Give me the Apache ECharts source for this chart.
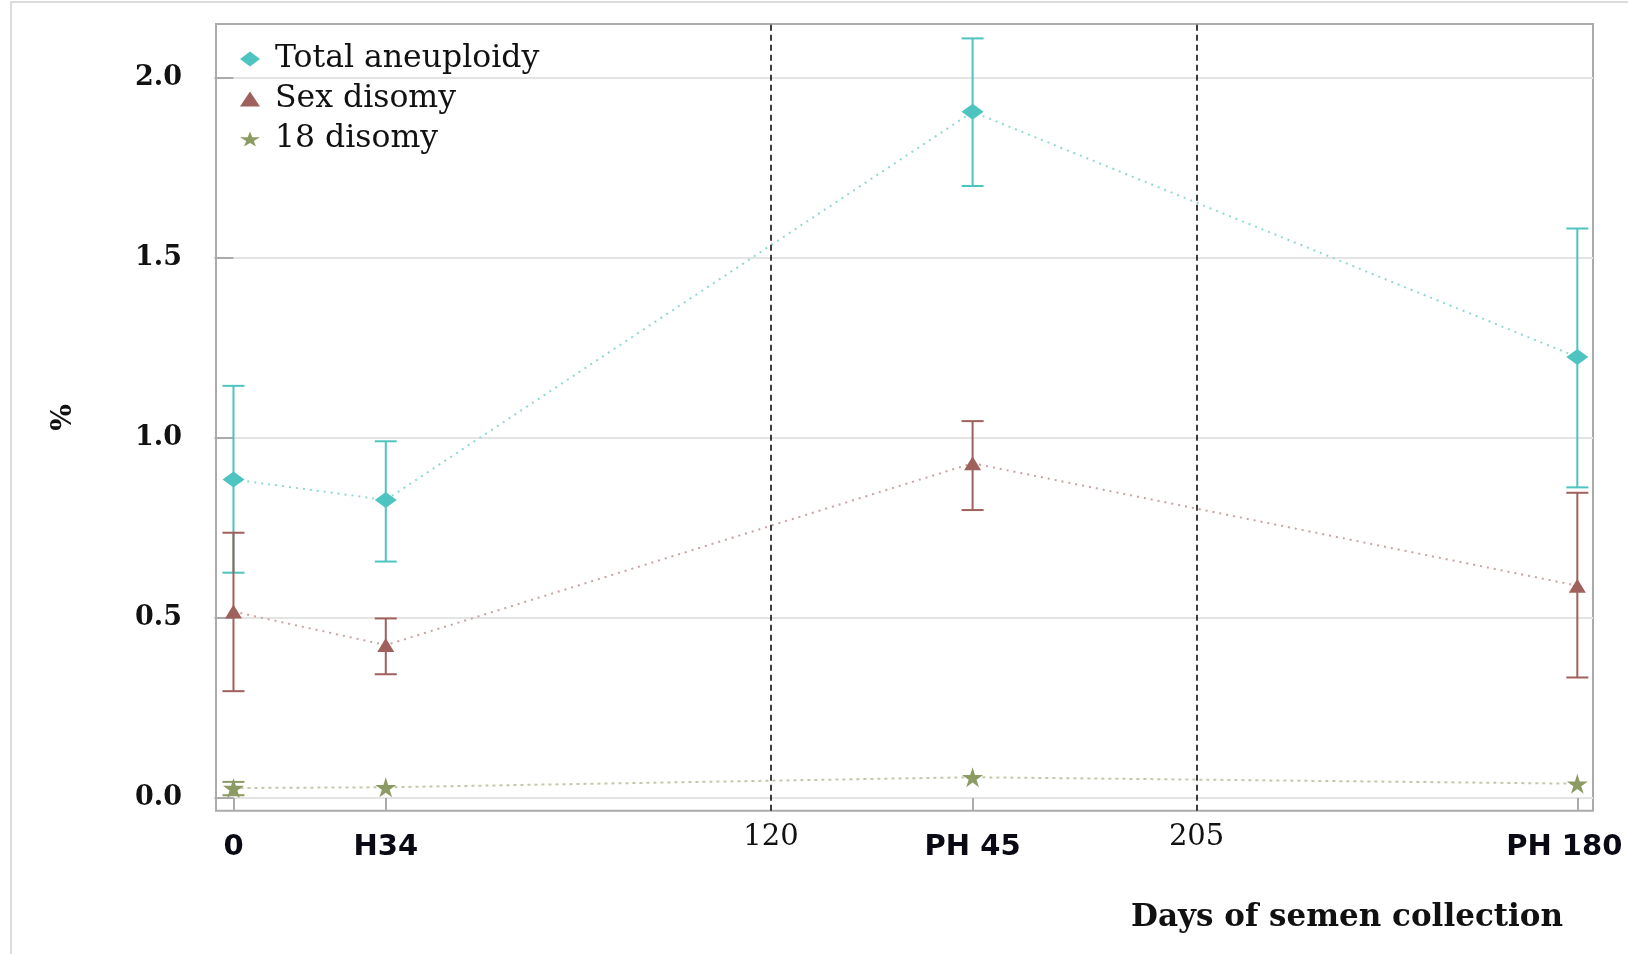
<!DOCTYPE html>
<html>
<head>
<meta charset="utf-8">
<script src="https://cdn.jsdelivr.net/npm/echarts@6/dist/echarts.min.js"></script>
<style>html,body{margin:0;padding:0;background:#fff;}#c{width:1628px;height:954px;}</style>
</head>
<body>
<div id="c"></div>
<script>
const categories = ['0', 'H34', 'PH 45', 'PH 180'];
const dayPos = [0, 34, 165, 300];
const totalMean = [0.885, 0.828, 1.906, 1.225];
const totalLow = [0.626, 0.657, 1.700, 0.863];
const totalHigh = [1.145, 0.991, 2.110, 1.582];
const sexMean = [0.518, 0.425, 0.930, 0.590];
const sexLow = [0.297, 0.344, 0.800, 0.335];
const sexHigh = [0.737, 0.499, 1.047, 0.848];
const d18Mean = [0.028, 0.030, 0.058, 0.040];
const d18Low = [0.008, null, null, null];
const d18High = [0.045, null, null, null];
const refDays = [120, 215];
const refLabels = ['120', '205'];
const yTicks = [0, 0.5, 1.0, 1.5, 2.0];

const STAR = 'path://M50,0 L61,35 L98,35 L68,57 L79,91 L50,70 L21,91 L32,57 L2,35 L39,35 Z';
const C_T = '#4ec4c0', C_S = '#a0605c', C_E = '#8c9a64';

function pts(m) { return dayPos.map((d, i) => [d, m[i]]); }
function bars(lo, hi) {
  const out = [];
  dayPos.forEach((d, i) => { if (lo[i] != null) out.push([d, lo[i], hi[i]]); });
  return out;
}
function errSeries(name, lo, hi, color) {
  return {
    type: 'custom', name: name + '_err', z: 2, silent: true,
    data: bars(lo, hi),
    renderItem: function (params, api) {
      const x = api.value(0);
      const a = api.coord([x, api.value(1)]);
      const b = api.coord([x, api.value(2)]);
      const w = 11;
      const st = { stroke: color, lineWidth: 2, fill: 'none' };
      return {
        type: 'group', children: [
          { type: 'line', shape: { x1: a[0], y1: a[1], x2: b[0], y2: b[1] }, style: st },
          { type: 'line', shape: { x1: a[0] - w, y1: a[1], x2: a[0] + w, y2: a[1] }, style: st },
          { type: 'line', shape: { x1: b[0] - w, y1: b[1], x2: b[0] + w, y2: b[1] }, style: st }
        ]
      };
    }
  };
}

const labelMap = {};
dayPos.forEach((d, i) => labelMap[d] = { t: categories[i], s: i === dayPos.length - 1 ? 'last' : 'cat' });
refDays.forEach((d, i) => labelMap[d] = { t: refLabels[i], s: 'ref' });

const chart = echarts.init(document.getElementById('c'), null, { renderer: 'canvas' });
chart.setOption({
  animation: false,
  backgroundColor: '#fff',
  graphic: [{
    type: 'rect', silent: true, z: -10,
    shape: { x: 11, y: 2, width: 1700, height: 1000 },
    style: { fill: 'none', stroke: '#dcdcdc', lineWidth: 2 }
  }],
  title: {
    text: 'Days of semen collection', left: 1126, top: 897,
    textStyle: { fontFamily: 'DejaVu Serif', fontWeight: 'bold', fontSize: 31, color: '#111' }
  },
  grid: {
    left: 216, top: 24, right: 35, bottom: 143.3,
    outerBoundsMode: 'none', containLabel: false,
    show: true, borderColor: '#ababab', borderWidth: 2, backgroundColor: 'transparent'
  },
  legend: {
    orient: 'vertical', left: 235, top: 38, itemGap: 8,
    itemWidth: 20, itemHeight: 15, symbolKeepAspect: false,
    textStyle: { fontFamily: 'DejaVu Serif', fontSize: 31.5, lineHeight: 31, color: '#111', padding: [0, 0, 0, 10] },
    data: [
      { name: 'Total aneuploidy', icon: 'diamond' },
      { name: 'Sex disomy', icon: 'triangle' },
      { name: '18 disomy', icon: STAR }
    ]
  },
  xAxis: {
    type: 'value', min: -3.9, max: 303.5,
    axisLine: { show: false },
    splitLine: { show: false },
    axisTick: { show: true, customValues: dayPos, length: 13, lineStyle: { color: '#ababab', width: 2 } },
    axisLabel: {
      customValues: dayPos.concat(refDays), margin: 12,
      formatter: function (v) { const m = labelMap[v]; return m ? '{' + m.s + '|' + m.t + '}' : ''; },
      rich: {
        cat: { fontFamily: 'DejaVu Sans', fontWeight: 'bold', fontSize: 29, lineHeight: 50, color: '#0a0a14' },
        last: { fontFamily: 'DejaVu Sans', fontWeight: 'bold', fontSize: 29, lineHeight: 50, color: '#0a0a14', padding: [0, 26, 0, 0] },
        ref: { fontFamily: 'DejaVu Serif', fontSize: 29, lineHeight: 29, color: '#111' }
      }
    }
  },
  yAxis: {
    type: 'value', min: -0.035, max: 2.15,
    name: '%', nameLocation: 'middle', nameGap: 138, nameRotate: 90,
    nameTextStyle: { fontFamily: 'DejaVu Serif', fontWeight: 'bold', fontSize: 28, color: '#111' },
    axisLine: { show: false },
    axisTick: { show: true, customValues: yTicks, length: 19, lineStyle: { color: '#ababab', width: 2 } },
    splitLine: { show: true, lineStyle: { color: '#e4e4e4', width: 2 } },
    axisLabel: {
      customValues: yTicks, margin: 34,
      formatter: function (v) { return v.toFixed(1); },
      fontFamily: 'DejaVu Serif', fontWeight: 'bold', fontSize: 27, color: '#111'
    }
  },
  series: [
    errSeries('Total aneuploidy', totalLow, totalHigh, C_T),
    errSeries('Sex disomy', sexLow, sexHigh, C_S),
    errSeries('18 disomy', d18Low, d18High, C_E),
    {
      type: 'line', name: 'Total aneuploidy', z: 3, data: pts(totalMean),
      symbol: 'diamond', symbolSize: [22, 16], itemStyle: { color: C_T },
      lineStyle: { color: '#8ed8d5', width: 2, type: [2, 5] },
      markLine: {
        silent: true, symbol: 'none', label: { show: false },
        lineStyle: { color: '#000', width: 1.5, type: [6, 4] },
        data: refDays.map(d => ({ xAxis: d }))
      }
    },
    {
      type: 'line', name: 'Sex disomy', z: 3, data: pts(sexMean),
      symbol: 'triangle', symbolSize: [17, 14], itemStyle: { color: C_S },
      lineStyle: { color: '#caa2a0', width: 2, type: [2, 5] }
    },
    {
      type: 'line', name: '18 disomy', z: 3, data: pts(d18Mean),
      symbol: STAR, symbolSize: [21, 20], itemStyle: { color: C_E },
      lineStyle: { color: '#c2c9a8', width: 2, type: [3, 4] }
    }
  ]
});
</script>
</body>
</html>
